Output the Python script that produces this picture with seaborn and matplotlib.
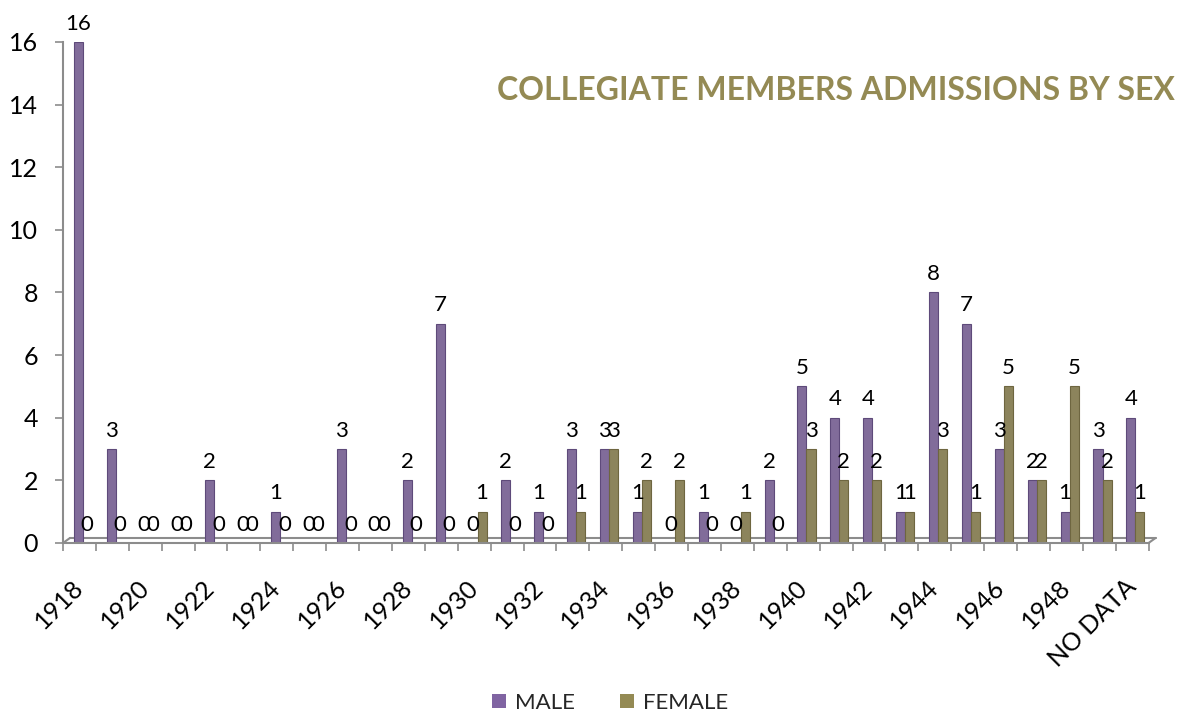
import matplotlib
matplotlib.use("Agg")
import matplotlib.pyplot as plt
import matplotlib.transforms as mtransforms
from matplotlib.patches import Patch
import seaborn as sns
import pandas as pd
import numpy as np

# Admissions of collegiate members per year, split by sex
years = [str(y) for y in range(1918, 1950)] + ["NO DATA"]
male = [16, 3, 0, 0, 2, 0, 1, 0, 3, 0,
        2, 7, 0, 2, 1, 3, 3, 1, 0, 1,
        0, 2, 5, 4, 4, 1, 8, 7, 3, 2,
        1, 3, 4]
female = [0, 0, 0, 0, 0, 0, 0, 0, 0, 0,
          0, 0, 1, 0, 0, 1, 3, 2, 2, 0,
          1, 0, 3, 2, 2, 1, 3, 1, 5, 2,
          5, 2, 1]
series = ["MALE", "FEMALE"]
y_ticks = list(range(0, 17, 2))

PURPLE = "#8064A2"
OLIVE = "#948A54"
GRID_GREY = "#8C8C8C"
FS = 16
TICK_FS = 18

df = pd.DataFrame({
    "year": years * 2,
    "sex": [series[0]] * len(years) + [series[1]] * len(years),
    "count": male + female,
})

sns.set_theme(style="white")
plt.rcParams["font.family"] = ["Lato", "DejaVu Sans"]

fig = plt.figure(figsize=(11.89, 7.15), dpi=100)
ax = fig.add_axes([0.053, 0.2406, 0.913, 0.7007])

sns.barplot(data=df, x="year", y="count", hue="sex", hue_order=series,
            palette=[PURPLE, OLIVE], width=0.55, gap=0, errorbar=None,
            edgecolor=None, linewidth=0, legend=False, ax=ax)

# darker rim on each bar gives the cylinders an edge; zero bars show as flat discs.
# bars stand slightly toward the back of the floor, so nudge them right a little.
edge_cols = ["#5E4A7A", "#6E6640"]
for cont, ec in zip(ax.containers, edge_cols):
    for bar in cont:
        bar.set_x(bar.get_x() + 0.1)
        bar.set_edgecolor(ec)
        bar.set_linewidth(0.8)

# value labels above every bar
for cont, vals in zip(ax.containers, [male, female]):
    ax.bar_label(cont, labels=[str(v) for v in vals], padding=6,
                 fontsize=FS, color="black", clip_on=False)

ax.set_xlim(-0.5, len(years) - 0.5)
ax.set_ylim(0, 16)
ax.set_yticks(y_ticks)
ax.set_yticklabels([str(t) for t in y_ticks], fontsize=TICK_FS, color="black")
ax.tick_params(axis="y", direction="out", length=6, width=1.2,
               color=GRID_GREY, pad=12, left=True)

# tick marks between categories, labels on every other category
ax.set_xticks(np.arange(-0.5, len(years), 1.0))
ax.set_xticklabels([])
ax.tick_params(axis="x", which="major", direction="out", length=6,
               width=1.2, color=GRID_GREY, bottom=True)
ax.set_xticks(np.arange(0, len(years), 2), minor=True)
ax.set_xticklabels(years[::2], minor=True, rotation=45, ha="right",
                   va="center", rotation_mode="anchor", fontsize=TICK_FS,
                   color="black")
ax.tick_params(axis="x", which="minor", length=0, pad=29, bottom=True)

ax.set_xlabel("")
ax.set_ylabel("")
for side in ["top", "right"]:
    ax.spines[side].set_visible(False)
for side in ["left", "bottom"]:
    ax.spines[side].set_color(GRID_GREY)
    ax.spines[side].set_linewidth(1.5)

# thin floor behind the bars
back = mtransforms.offset_copy(ax.transData, fig=fig, x=7, y=5, units="dots")
n = len(years)
ax.plot([-0.5, n - 0.5], [0, 0], color=GRID_GREY, lw=1.5,
        transform=back, clip_on=False, zorder=0.5)
for xe in (-0.5, n - 0.5):
    ax.annotate("", xy=(xe, 0), xycoords="data",
                xytext=(7, 5), textcoords="offset pixels",
                arrowprops=dict(arrowstyle="-", color=GRID_GREY, lw=1.5,
                                shrinkA=0, shrinkB=0))

fig.text(0.988, 0.873, "COLLEGIATE MEMBERS ADMISSIONS BY SEX",
         ha="right", va="center", fontsize=23, fontweight="bold",
         color=OLIVE)

handles = [Patch(facecolor=PURPLE, edgecolor="none"),
           Patch(facecolor=OLIVE, edgecolor="none")]
fig.legend(handles, series, loc="center", bbox_to_anchor=(0.513, 0.017),
           ncol=2, frameon=False, fontsize=FS, handlelength=0.65,
           handleheight=0.65, handletextpad=0.4, columnspacing=2.0)

fig.savefig("out.png", dpi=100, facecolor="white")
